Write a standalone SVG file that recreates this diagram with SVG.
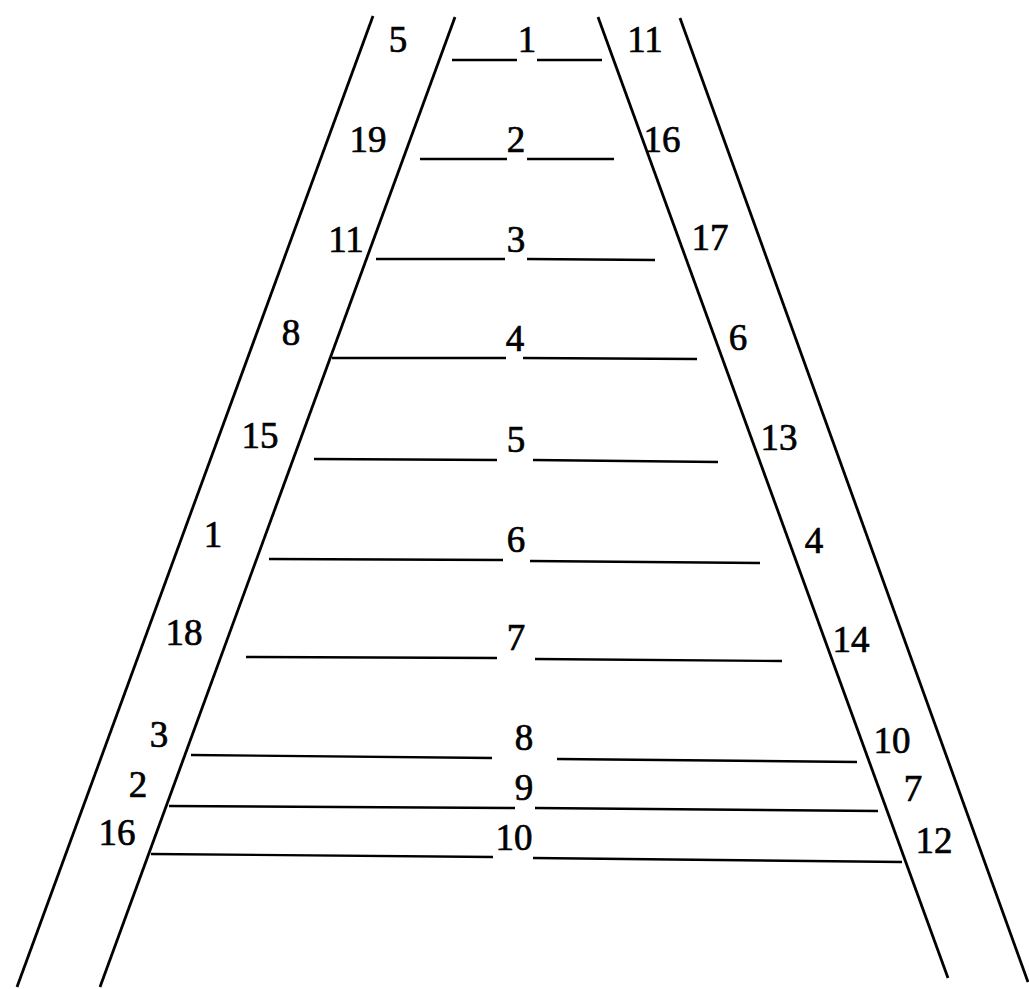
<svg xmlns="http://www.w3.org/2000/svg" width="1029" height="989" viewBox="0 0 1029 989">
<style>
.rail{stroke:#000;stroke-width:2.8;fill:none}
.rung{stroke:#000;stroke-width:2.4;fill:none}
.lbl{font-family:'Liberation Serif','DejaVu Serif','Times New Roman',serif;font-size:37px;fill:#000;text-anchor:middle;stroke:#000;stroke-width:0.7}
</style>
<rect width="1029" height="989" fill="#fff"/>
<g id="rails">
<line class="rail" x1="373" y1="16" x2="17" y2="987"/>
<line class="rail" x1="455" y1="17" x2="100" y2="987"/>
<line class="rail" x1="598" y1="17" x2="948" y2="978"/>
<line class="rail" x1="680" y1="18" x2="1028" y2="982"/>
</g>
<g id="rungs">
<path class="rung" d="M452 60H517M537 60H602"/>
<path class="rung" d="M420 159H507M527 159H614"/>
<path class="rung" d="M376 259H505M527 259L655 260"/>
<path class="rung" d="M332 358H506M523 358L697 359"/>
<path class="rung" d="M314 459L497 460M533 460L718 462"/>
<path class="rung" d="M269 559L503 560M530 561L760 563"/>
<path class="rung" d="M246 657L497 658M535 659L782 661"/>
<path class="rung" d="M191 755L492 758M557 759L857 762"/>
<path class="rung" d="M169 806L515 808M535 808L878 811"/>
<path class="rung" d="M151 854L493 857M533 858L902 862"/>
</g>
<g id="center-labels">
<text class="lbl" x="527" y="52">1</text>
<text class="lbl" x="516" y="152">2</text>
<text class="lbl" x="516" y="252">3</text>
<text class="lbl" x="515" y="351">4</text>
<text class="lbl" x="516" y="452">5</text>
<text class="lbl" x="516" y="552">6</text>
<text class="lbl" x="516" y="650">7</text>
<text class="lbl" x="524" y="750">8</text>
<text class="lbl" x="524" y="800">9</text>
<text class="lbl" x="514" y="850">10</text>
</g>
<g id="left-labels">
<text class="lbl" x="398" y="52">5</text>
<text class="lbl" x="368" y="152">19</text>
<text class="lbl" x="346" y="252">11</text>
<text class="lbl" x="291" y="345">8</text>
<text class="lbl" x="260" y="448">15</text>
<text class="lbl" x="213" y="547">1</text>
<text class="lbl" x="184" y="645">18</text>
<text class="lbl" x="159" y="747">3</text>
<text class="lbl" x="138" y="797">2</text>
<text class="lbl" x="117" y="845">16</text>
</g>
<g id="right-labels">
<text class="lbl" x="645" y="52">11</text>
<text class="lbl" x="662" y="152">16</text>
<text class="lbl" x="710" y="250">17</text>
<text class="lbl" x="738" y="350">6</text>
<text class="lbl" x="779" y="450">13</text>
<text class="lbl" x="814" y="553">4</text>
<text class="lbl" x="851" y="652">14</text>
<text class="lbl" x="892" y="753">10</text>
<text class="lbl" x="913" y="801">7</text>
<text class="lbl" x="934" y="853">12</text>
</g>
</svg>
